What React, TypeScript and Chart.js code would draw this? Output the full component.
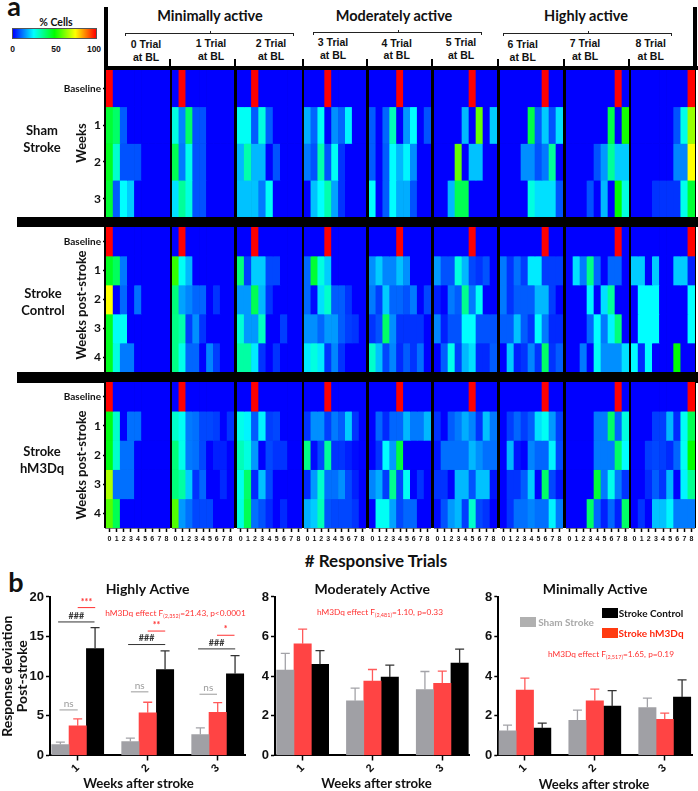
import React, { useEffect, useRef } from "react";
import { Chart, registerables } from "chart.js";

Chart.register(...registerables);

const LATO = "Lato, 'Open Sans', sans-serif";
const ARIAL = "'Liberation Sans', Arial, sans-serif";
const NARROW = "'Liberation Sans Narrow', 'Liberation Sans', sans-serif";

// ---------- heat-map data: % cells, [panel][row][# responsive trials 0..8] ----------
const trialBins = [0, 1, 2, 3, 4, 5, 6, 7, 8];
const shamRows = ["Baseline", "1", "2", "3"];
const postStrokeRows = ["Baseline", "1", "2", "3", "4"];

const shamStroke = [
  [[100,0,0,0,0,0,0,0,0],[45,40,9,0,0,0,0,0,0],[47,30,8,8,8,0,0,0,0],[45,9,25,20,0,0,0,0,0]],
  [[0,100,0,0,0,0,0,0,0],[28,13,40,8,8,0,0,0,0],[42,12,27,8,8,0,0,0,0],[22,35,28,8,8,0,0,0,0]],
  [[0,0,100,0,0,0,0,0,0],[26,26,9,28,9,0,0,0,0],[18,33,18,18,0,8,0,0,0],[19,19,19,12,26,0,0,0,0]],
  [[0,0,0,100,0,0,0,0,0],[17,10,26,0,14,10,24,0,0],[12,8,33,8,26,5,0,0,0],[0,19,25,33,16,5,0,0,0]],
  [[0,0,0,0,100,0,0,0,0],[9,0,10,32,0,15,25,0,8],[9,0,9,25,18,24,14,0,0],[25,0,9,25,17,17,8,0,0]],
  [[0,0,0,0,0,100,0,0,0],[0,0,0,0,18,0,60,0,20],[0,0,0,60,0,19,19,0,0],[0,0,18,42,42,0,0,0,0]],
  [[0,0,0,0,0,0,100,0,0],[0,0,0,0,43,9,20,8,22],[0,0,0,14,14,8,12,35,0],[0,0,0,0,28,22,22,22,8]],
  [[0,0,0,0,0,0,0,100,0],[0,0,0,0,0,0,43,0,52],[0,0,0,0,8,15,35,20,20],[0,0,0,8,0,18,0,50,28]],
  [[0,0,0,0,0,0,0,0,100],[0,0,0,0,0,0,8,27,65],[0,0,0,0,0,0,13,13,75],[0,0,0,5,5,5,5,27,45]],
];

const strokeControl = [
  [[100,0,0,0,0,0,0,0,0],[47,41,12,0,0,0,0,0,0],[75,0,10,0,11,0,0,0,0],[47,26,26,0,0,0,0,0,0],[47,28,12,12,0,0,0,0,0]],
  [[0,100,0,0,0,0,0,0,0],[55,26,18,0,0,0,0,0,0],[38,16,13,10,10,0,5,0,0],[37,33,6,14,5,0,0,0,0],[37,27,10,10,0,13,6,0,0]],
  [[0,0,100,0,0,0,0,0,0],[38,6,20,20,7,7,0,0,0],[15,15,42,18,5,0,0,0,0],[29,15,15,31,0,0,6,0,0],[34,34,23,5,0,5,0,0,0]],
  [[0,0,0,100,0,0,0,0,0],[10,45,28,20,0,0,0,0,0],[10,1,22,30,9,9,5,0,0],[14,14,10,15,15,9,6,5,0],[23,28,23,5,13,5,0,0,0]],
  [[0,0,0,0,100,0,0,0,0],[14,20,13,13,19,14,0,0,0],[12,6,20,10,10,8,12,0,7],[5,8,40,14,5,5,5,5,0],[30,19,7,13,4,9,5,11,0]],
  [[0,0,0,0,0,100,0,0,0],[15,8,8,28,18,7,5,8,0],[3,0,12,9,36,12,26,0,0],[13,3,8,8,25,25,8,8,8],[0,9,27,6,18,22,4,4,9]],
  [[0,0,0,0,0,0,100,0,0],[12,5,11,6,23,23,6,6,6],[12,5,9,9,9,18,18,6,0],[9,9,19,9,5,25,12,4,4],[0,20,3,5,13,5,40,5,9]],
  [[0,0,0,0,0,0,0,100,0],[0,22,12,37,10,0,10,10,0],[0,0,0,24,0,22,35,0,0],[0,0,0,10,25,12,24,38,0],[0,0,12,0,26,14,14,14,22]],
  [[0,0,0,0,0,0,0,0,100],[20,20,0,20,0,0,20,20,3],[0,25,25,25,0,0,0,0,25],[0,25,25,25,0,0,0,0,25],[25,4,25,0,0,0,50,0,0]],
];

const strokeHm3dq = [
  [[100,0,0,0,0,0,0,0,0],[48,30,0,11,11,0,0,0,0],[48,30,11,11,0,0,0,0,0],[67,11,11,11,0,0,0,0,0],[58,42,0,0,0,0,0,0,0]],
  [[0,100,0,0,0,0,0,0,0],[30,26,12,11,7,7,6,0,5],[38,27,12,11,7,0,3,3,0],[38,34,20,5,10,0,0,4,0],[58,15,11,7,7,7,0,0,0]],
  [[0,0,100,0,0,0,0,0,0],[27,24,9,24,6,7,0,0,0],[32,28,15,0,7,5,5,0,0],[27,40,4,19,7,0,0,0,0],[28,42,11,8,4,0,4,0,0]],
  [[0,0,0,100,0,0,0,0,0],[5,14,14,6,12,9,20,5,0],[37,1,7,35,5,5,3,1,0],[4,15,30,11,11,14,7,3,0],[17,20,32,8,7,7,7,5,0]],
  [[0,0,0,0,100,0,0,0,0],[0,10,4,10,10,18,12,12,18],[0,5,25,15,44,0,0,0,0],[13,17,6,36,7,26,0,5,0],[0,26,26,16,7,10,10,0,0]],
  [[0,0,0,0,0,100,0,0,0],[5,0,9,12,17,13,5,19,12],[2,11,11,11,11,18,14,11,11],[5,5,0,18,18,8,19,19,2],[1,8,15,18,6,30,7,5,0]],
  [[0,0,0,0,0,0,100,0,0],[0,6,10,6,9,22,26,15,6],[0,18,2,0,13,10,10,24,7],[0,5,5,9,20,0,40,7,2],[0,5,11,11,13,11,11,24,12]],
  [[0,0,0,0,0,0,0,100,0],[0,0,0,0,12,12,40,10,28],[0,0,0,0,12,12,12,40,25],[0,0,0,0,45,12,27,12,5],[0,0,0,40,10,3,10,3,40]],
  [[0,0,0,0,0,0,0,0,100],[0,0,0,6,6,18,4,26,42],[0,0,6,7,6,4,10,26,50],[0,0,4,9,5,18,0,24,36],[0,5,0,19,19,24,12,12,12]],
];

// ---------- bar data ----------
const weeks = [1, 2, 3];
const highlySham = [1.39, 1.76, 2.65];
const highlyShamErr = [1.68, 2.2, 3.49];
const highlyHm3dq = [3.74, 5.38, 5.46];
const highlyHm3dqErr = [4.62, 6.72, 6.68];
const highlyControl = [13.5, 10.84, 10.3];
const highlyControlErr = [16.13, 13.2, 12.6];

const moderatelySham = [4.31, 2.76, 3.33];
const moderatelyShamErr = [5.15, 3.4, 4.24];
const moderatelyHm3dq = [5.64, 3.75, 3.64];
const moderatelyHm3dqErr = [6.38, 4.34, 4.26];
const moderatelyControl = [4.6, 3.96, 4.66];
const moderatelyControlErr = [5.29, 4.56, 5.37];

const minimallySham = [1.25, 1.78, 2.42];
const minimallyShamErr = [1.53, 2.29, 2.9];
const minimallyHm3dq = [3.3, 2.76, 1.83];
const minimallyHm3dqErr = [3.9, 3.35, 2.14];
const minimallyControl = [1.38, 2.49, 2.95];
const minimallyControlErr = [1.63, 3.27, 3.82];

const highlyMarks = [
  { x1: 1.0, x2: 1.25, y: 18.66, text: "***", color: "#ff3030" },
  { x1: 0.72, x2: 1.24, y: 16.85, text: "###", color: "#333333" },
  { x1: 0.74, x2: 1.0, y: 5.75, text: "ns", color: "#9a9a9a" },
  { x1: 2.0, x2: 2.25, y: 15.7, text: "**", color: "#ff3030" },
  { x1: 1.72, x2: 2.25, y: 14.0, text: "###", color: "#333333" },
  { x1: 1.76, x2: 2.01, y: 8.03, text: "ns", color: "#9a9a9a" },
  { x1: 2.99, x2: 3.24, y: 15.17, text: "*", color: "#ff3030" },
  { x1: 2.72, x2: 3.25, y: 13.45, text: "###", color: "#333333" },
  { x1: 2.74, x2: 2.99, y: 7.73, text: "ns", color: "#9a9a9a" },
];

// ---------- colour map ----------
function heatColor(v: number): string {
  let r = 0, g = 0, b = 0;
  if (v <= 25) { g = (v / 25) * 255; b = 255; }
  else if (v <= 50) { g = 255; b = ((50 - v) / 25) * 255; }
  else if (v <= 75) { g = 255; r = ((v - 50) / 25) * 255; }
  else { r = 255; g = ((100 - v) / 25) * 255; }
  return `rgb(${Math.round(r)},${Math.round(g)},${Math.round(b)})`;
}

// ---------- layout ----------
const panelLeft = [106, 172, 237, 304, 369, 434, 500, 566, 631];
const panelRight = [170, 234, 302, 366, 431, 497, 563, 629, 695];
const groupTop = [70, 227, 382];
const groupBottom = [217, 372, 528];
const Y_AXIS_W = 52;
const X_AXIS_H = 20;

function HeatPanel({ values, rows, panel, group, last }: any) {
  const ref = useRef<HTMLCanvasElement>(null);
  const first = panel === 0;
  const w = panelRight[panel] - panelLeft[panel] + (first ? Y_AXIS_W : 0);
  const h = groupBottom[group] - groupTop[group] + (last ? X_AXIS_H : 0);
  useEffect(() => {
    const chart = new Chart(ref.current!, {
      type: "bar",
      data: {
        labels: trialBins.map(String),
        datasets: rows.map((_: string, r: number) => ({
          label: rows[r],
          data: trialBins.map(() => [r, r + 1]),
          backgroundColor: values[r].map(heatColor),
          borderWidth: 0,
          grouped: false,
          barPercentage: 1,
          categoryPercentage: 1,
        })),
      },
      options: {
        animation: false,
        responsive: false,
        devicePixelRatio: 1,
        layout: { padding: 0 },
        plugins: { legend: { display: false }, tooltip: { enabled: false } },
        scales: {
          x: {
            display: last,
            offset: true,
            grid: { display: true, drawOnChartArea: false, tickLength: 4, color: "#000", tickWidth: 1.5, offset: false },
            border: { color: "#000", width: 1.5 },
            ticks: {
              autoSkip: false, maxRotation: 0, minRotation: 0, padding: 3, color: "#111",
              font: { family: ARIAL, size: 7, weight: "bold" },
            },
            afterFit: (s: any) => { if (last) s.height = X_AXIS_H; else s.height = 0; s.paddingLeft = 0; s.paddingRight = 0; },
          },
          y: {
            display: first,
            type: "linear",
            reverse: true,
            min: 0,
            max: rows.length,
            afterBuildTicks: (s: any) => { s.ticks = rows.map((_: string, i: number) => ({ value: i + 0.5 })); },
            grid: { display: true, drawOnChartArea: false, tickLength: 3, color: "#000", tickWidth: 1.5 },
            border: { display: false },
            ticks: {
              autoSkip: false, padding: 2, color: "#111",
              callback: (v: any) => rows[Math.floor(Number(v))],
              font: (c: any) => ({ family: LATO, weight: "bold", size: c.index === 0 ? 10 : 12 }),
            },
            afterFit: (s: any) => { s.width = first ? Y_AXIS_W : 0; s.paddingTop = 0; s.paddingBottom = 0; },
          },
        },
      } as any,
    });
    return () => chart.destroy();
  }, []);
  return (
    <canvas
      ref={ref}
      width={w}
      height={h}
      style={{ position: "absolute", left: panelLeft[panel] - (first ? Y_AXIS_W : 0), top: groupTop[group], width: w, height: h }}
    />
  );
}

function BarPanel({ title, left, width, yAxisW, padRight, yMax, yStep, xMin, xMax, sham, shamErr, hm3dq, hm3dqErr, control, controlErr, marks, yTitle }: any) {
  const ref = useRef<HTMLCanvasElement>(null);
  const top = 582;
  const height = 209;
  useEffect(() => {
    const errs = [shamErr, hm3dqErr, controlErr];
    const errColors = ["#a3a3a8", "#ff5a5a", "#333333"];
    const decor = {
      id: "decor",
      afterDatasetsDraw(chart: any) {
        const { ctx, scales } = chart;
        ctx.save();
        errs.forEach((e: number[], d: number) => {
          chart.getDatasetMeta(d).data.forEach((el: any, i: number) => {
            const yTop = scales.y.getPixelForValue(e[i]);
            ctx.strokeStyle = errColors[d];
            ctx.lineWidth = 1.3;
            ctx.beginPath();
            ctx.moveTo(el.x, el.y);
            ctx.lineTo(el.x, yTop);
            ctx.moveTo(el.x - 4.5, yTop);
            ctx.lineTo(el.x + 4.5, yTop);
            ctx.stroke();
          });
        });
        (marks || []).forEach((m: any) => {
          const y = scales.y.getPixelForValue(m.y);
          const x1 = scales.x.getPixelForValue(m.x1);
          const x2 = scales.x.getPixelForValue(m.x2);
          ctx.strokeStyle = m.color;
          ctx.fillStyle = m.color;
          ctx.lineWidth = 1;
          ctx.beginPath();
          ctx.moveTo(x1, y);
          ctx.lineTo(x2, y);
          ctx.stroke();
          ctx.font = `${m.text === "ns" ? "normal" : "bold"} ${m.text === "ns" ? 10 : 9}px ${LATO}`;
          ctx.textAlign = "center";
          ctx.textBaseline = "middle";
          ctx.fillText(m.text, (x1 + x2) / 2, y - 6);
        });
        ctx.restore();
      },
    };
    const chart = new Chart(ref.current!, {
      type: "bar",
      plugins: [decor],
      data: {
        labels: weeks,
        datasets: [
          { label: "Sham Stroke", data: sham, backgroundColor: "#a0a0a5" },
          { label: "Stroke hM3Dq", data: hm3dq, backgroundColor: "#ff4444" },
          { label: "Stroke Control", data: control, backgroundColor: "#000000" },
        ],
      },
      options: {
        animation: false,
        responsive: false,
        devicePixelRatio: 1,
        layout: { padding: { right: padRight } },
        datasets: { bar: { barThickness: 17.35, borderWidth: 0 } },
        plugins: {
          legend: { display: false },
          tooltip: { enabled: false },
          title: {
            display: true, text: title, fullSize: false, padding: 0, color: "#111",
            font: { family: LATO, size: 14, weight: "bold", lineHeight: 1.07 },
          },
        },
        scales: {
          x: {
            type: "linear",
            offset: false,
            min: xMin,
            max: xMax,
            afterBuildTicks: (s: any) => { s.ticks = weeks.map((v) => ({ value: v })); },
            grid: { display: true, drawOnChartArea: false, tickLength: 5, color: "#000", tickWidth: 1.5, offset: false },
            border: { color: "#000", width: 2 },
            ticks: {
              autoSkip: false, minRotation: 45, maxRotation: 45, padding: 1, color: "#111",
              callback: (v: any) => String(v),
              font: { family: ARIAL, size: 11, weight: "bold" },
            },
            afterFit: (s: any) => { s.height = 35.5; s.paddingLeft = 0; s.paddingRight = 0; },
          },
          y: {
            min: 0,
            max: yMax,
            ticks: { stepSize: yStep, padding: 2, color: "#111", font: { family: NARROW, size: 13, weight: "bold" } },
            grid: { display: true, drawOnChartArea: false, tickLength: 4, color: "#000", tickWidth: 1.5 },
            border: { color: "#000", width: 2 },
            title: yTitle
              ? { display: true, text: yTitle, color: "#111", padding: 0, font: { family: LATO, size: 14, weight: "bold", lineHeight: 1.08 } }
              : { display: false },
            afterFit: (s: any) => { s.width = yAxisW; s.paddingTop = 0; s.paddingBottom = 0; },
          },
        },
      } as any,
    });
    return () => chart.destroy();
  }, []);
  return (
    <canvas ref={ref} width={width} height={height}
      style={{ position: "absolute", left, top, width, height }} />
  );
}

function T({ x, y, size, font = LATO, color = "#111", weight = "bold", rotate = 0, children }: any) {
  return (
    <div style={{
      position: "absolute", left: x, top: y, fontFamily: font, fontSize: size, color, fontWeight: weight,
      transform: `translate(-50%,-50%) rotate(${rotate}deg)`, whiteSpace: "nowrap", lineHeight: 1,
    }}>{children}</div>
  );
}

function Box({ x, y, w, h, color = "#000" }: any) {
  return <div style={{ position: "absolute", left: x, top: y, width: w, height: h, background: color }} />;
}

function Bracket({ x1, x2, y }: any) {
  return (
    <>
      <Box x={x1} y={y} w={x2 - x1} h={1} color="#222" />
      <Box x={x1} y={y} w={1} h={3} color="#222" />
      <Box x={x2 - 1} y={y} w={1} h={3} color="#222" />
      <Box x={(x1 + x2) / 2} y={y - 2} w={1} h={2} color="#222" />
    </>
  );
}

function Stat({ x, y, label, sub, rest }: any) {
  return (
    <T x={x} y={y} size={8.3} color="#ff3030" weight="normal">
      {label}<span style={{ fontSize: 5.5, verticalAlign: -2 }}>{sub}</span>{rest}
    </T>
  );
}

const trialLabels = [
  { text: "0 Trial", x: 146, y: 44 },
  { text: "1 Trial", x: 211, y: 43 },
  { text: "2 Trial", x: 271, y: 43 },
  { text: "3 Trial", x: 333, y: 42 },
  { text: "4 Trial", x: 396.7, y: 42.5 },
  { text: "5 Trial", x: 461, y: 42 },
  { text: "6 Trial", x: 522.7, y: 44 },
  { text: "7 Trial", x: 585, y: 43 },
  { text: "8 Trial", x: 650.7, y: 43 },
];
const separators = [170, 235, 303, 367, 432, 498, 564, 629];
const heatGroups = [
  { values: shamStroke, rows: shamRows },
  { values: strokeControl, rows: postStrokeRows },
  { values: strokeHm3dq, rows: postStrokeRows },
];

export default function App() {
  return (
    <div style={{ position: "absolute", left: 0, top: 0, width: 698, height: 791, overflow: "hidden", background: "#fff" }}>
      {/* heat-map frame */}
      <Box x={104} y={66} w={592} h={462} />
      <Box x={104} y={7} w={4} h={60} />
      <Box x={693} y={7} w={4} h={60} />
      <Box x={104} y={66} w={594} h={4} />
      <Box x={17} y={217} w={681} h={10} />
      <Box x={17} y={372} w={681} h={11} />
      {separators.map((x) => <Box key={x} x={x - 1} y={59} w={2} h={8} />)}

      {heatGroups.map((g, gi) =>
        g.values.map((vals, p) => (
          <HeatPanel key={`${gi}-${p}`} values={vals} rows={g.rows} panel={p} group={gi} last={gi === 2} />
        ))
      )}

      {/* colour bar */}
      <T x={56} y={22} size={10.5}>% Cells</T>
      <div style={{
        position: "absolute", left: 12, top: 28, width: 85, height: 11, boxSizing: "border-box", border: "1px solid #555",
        background: `linear-gradient(to right, ${[0, 25, 50, 75, 100].map((v) => heatColor(v)).join(",")})`,
      }} />
      <T x={12.5} y={48.5} size={8.5} font={ARIAL}>0</T>
      <T x={56} y={48.5} size={8.5} font={ARIAL}>50</T>
      <T x={94} y={48.5} size={8.5} font={ARIAL}>100</T>

      {/* headers */}
      <T x={14} y={5} size={27}>a</T>
      <T x={16} y={581} size={27}>b</T>
      <T x={210} y={16} size={14.5}>Minimally active</T>
      <T x={394} y={16} size={14.5}>Moderately active</T>
      <T x={586} y={15.5} size={14.5}>Highly active</T>
      <Bracket x1={125} x2={294} y={33} />
      <Bracket x1={313} x2={482} y={32} />
      <Bracket x1={503} x2={672} y={33} />
      {trialLabels.map((t) => (
        <React.Fragment key={t.text}>
          <T x={t.x} y={t.y} size={10.5} font={ARIAL}>{t.text}</T>
          <T x={t.x} y={t.y + 12.5} size={10.5} font={ARIAL}>at BL</T>
        </React.Fragment>
      ))}

      {/* side labels */}
      <T x={42} y={130} size={13}>Sham</T>
      <T x={42} y={147} size={13}>Stroke</T>
      <T x={81} y={143} size={13} rotate={-90}>Weeks</T>
      <T x={43} y={293} size={13}>Stroke</T>
      <T x={43} y={310} size={13}>Control</T>
      <T x={81} y={305} size={13} rotate={-90}>Weeks post-stroke</T>
      <T x={42} y={451} size={13}>Stroke</T>
      <T x={42} y={468} size={13}>hM3Dq</T>
      <T x={81} y={465} size={13} rotate={-90}>Weeks post-stroke</T>
      <T x={376} y={560} size={17}># Responsive Trials</T>

      {/* bars */}
      <BarPanel title="Highly Active" left={0} width={250} yAxisW={50} padRight={5} yMax={20} yStep={5} xMin={0.604} xMax={3.39}
        sham={highlySham} shamErr={highlyShamErr} hm3dq={highlyHm3dq} hm3dqErr={highlyHm3dqErr}
        control={highlyControl} controlErr={highlyControlErr} marks={highlyMarks}
        yTitle={["Response deviation", "Post-stroke"]} />
      <BarPanel title="Moderately Active" left={245} width={230} yAxisW={30} padRight={5.5} yMax={8} yStep={2} xMin={0.604} xMax={3.39}
        sham={moderatelySham} shamErr={moderatelyShamErr} hm3dq={moderatelyHm3dq} hm3dqErr={moderatelyHm3dqErr}
        control={moderatelyControl} controlErr={moderatelyControlErr} />
      <BarPanel title="Minimally Active" left={468} width={230} yAxisW={30.3} padRight={6} yMax={8} yStep={2} xMin={0.62} xMax={3.39}
        sham={minimallySham} shamErr={minimallyShamErr} hm3dq={minimallyHm3dq} hm3dqErr={minimallyHm3dqErr}
        control={minimallyControl} controlErr={minimallyControlErr} />

      <T x={138.5} y={784} size={13.2}>Weeks after stroke</T>
      <T x={376.5} y={784} size={13.2}>Weeks after stroke</T>
      <T x={594} y={785} size={13.2}>Weeks after stroke</T>

      <Stat x={175.5} y={614} label="hM3Dq effect F" sub="(2,352)" rest="=21.43, p<0.0001" />
      <Stat x={380} y={612.7} label="hM3Dq effect F" sub="(2,481)" rest="=1.10, p=0.33" />
      <Stat x={611} y={655} label="hM3Dq effect F" sub="(2,517)" rest="=1.65, p=0.19" />

      {/* legend */}
      <Box x={520} y={617} w={16} h={10} color="#b0b0b0" />
      <T x={566} y={622} size={10} color="#a8a8a8">Sham Stroke</T>
      <Box x={602} y={608} w={15.5} h={10} />
      <T x={651} y={613} size={10}>Stroke Control</T>
      <Box x={602} y={628} w={15.5} h={10} color="#ff3a10" />
      <T x={651} y={633} size={10} color="#ff2a10">Stroke hM3Dq</T>
    </div>
  );
}
